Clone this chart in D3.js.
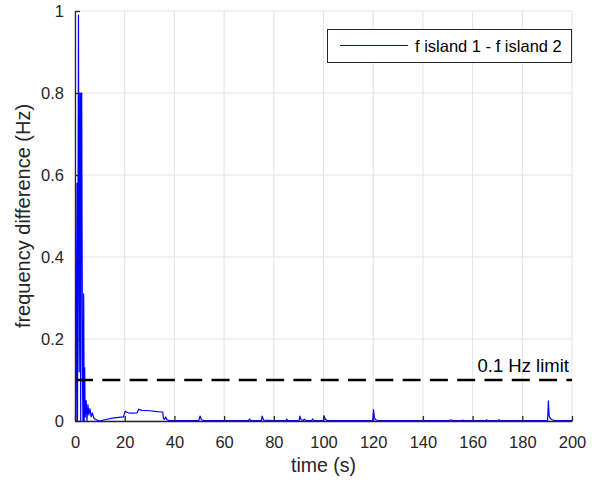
<!DOCTYPE html>
<html>
<head>
<meta charset="utf-8">
<script src="https://cdn.jsdelivr.net/npm/d3@7"></script>
<style>
  html, body { margin: 0; padding: 0; background: #fff; }
  svg { display: block; font-family: "Liberation Sans", Arial, Helvetica, sans-serif; }
</style>
</head>
<body>
<svg id="chart" width="598" height="483"></svg>
<script>
// Time (s) and frequency difference between the two islands (Hz)
const timeS = [
  0, 0.4, 0.8, 1.0, 1.4, 1.7, 2.0, 2.3, 2.5, 2.7, 3.0, 3.2, 3.5, 3.7, 3.9, 4.1,
  4.5, 4.8, 5.2, 5.6, 6.0, 6.5, 7.0, 7.5, 8.0, 9.0, 10.0, 12.0, 15.0, 19.5,
  20.2, 20.6, 21.5, 23.0, 25.0, 25.6, 26.2, 27.0, 30.0, 33.0, 35.3, 35.6, 36.0,
  36.5, 37.0, 38.0, 40.0, 45.0, 49.8, 50.3, 50.9, 52.0, 60.0, 69.8, 70.2, 70.7,
  75.0, 75.3, 75.9, 80.0, 84.9, 85.2, 85.6, 90.2, 90.5, 91.0, 91.9, 92.2, 93.0,
  95.3, 95.6, 96.2, 99.9, 100.2, 100.8, 101.5, 110.0, 119.8, 120.1, 120.5,
  121.0, 122.0, 130.0, 140.0, 150.8, 151.2, 151.8, 155.6, 156.0, 156.5, 165.3,
  165.6, 166.0, 170.3, 170.6, 171.1, 180.0, 190.2, 190.5, 190.8, 191.3, 192.0,
  193.0, 200.0
];
const freqDiff = [
  0, 0.0, 0.58, 0.0, 0.99, 0.12, 0.8, 0.0, 0.8, 0.8, 0.12, 0.0, 0.31, 0.0, 0.13, 0.01,
  0.05, 0.0, 0.04, 0.015, 0.03, 0.01, 0.02, 0.008, 0.005, 0.002, 0.0, 0.003, 0.007, 0.01,
  0.024, 0.022, 0.02, 0.019, 0.02, 0.029, 0.027, 0.026, 0.025, 0.023, 0.022, 0.006, 0.004,
  0.01, 0.003, 0.001, 0.001, 0.001, 0.001, 0.012, 0.003, 0.001, 0.001, 0.001, 0.005, 0.001,
  0.001, 0.012, 0.002, 0.001, 0.001, 0.005, 0.001, 0.001, 0.012, 0.003, 0.001, 0.004, 0.001,
  0.001, 0.005, 0.001, 0.001, 0.013, 0.004, 0.001, 0.001, 0.001, 0.028, 0.008,
  0.003, 0.001, 0.001, 0.001, 0.001, 0.003, 0.001, 0.001, 0.002, 0.001, 0.001,
  0.003, 0.001, 0.001, 0.003, 0.001, 0.001, 0.001, 0.049, 0.013,
  0.006, 0.003, 0.001, 0.001
];
const xTicks = [0, 20, 40, 60, 80, 100, 120, 140, 160, 180, 200];
const yTicks = [0, 0.2, 0.4, 0.6, 0.8, 1];
const limitHz = [0.1];
const seriesName = ["f island 1 - f island 2"];
const limitLabel = ["0.1 Hz limit"];

const svg = d3.select("#chart");
const margin = { left: 75, right: 26, top: 11, bottom: 62 };
const W = 598, H = 483;
const FONT = "\"Liberation Sans\", Arial, Helvetica, sans-serif";

const x = d3.scaleLinear().domain([0, 200]).range([margin.left, W - margin.right]);
const y = d3.scaleLinear().domain([0, 1]).range([H - margin.bottom, margin.top]);

const axisColor = "#262626";
const gridColor = "#e3e3e3";

// grid lines
const grid = svg.append("g");
grid.selectAll("line.vx").data(xTicks).join("line")
  .attr("x1", d => x(d)).attr("x2", d => x(d))
  .attr("y1", y(0)).attr("y2", y(1))
  .attr("stroke", gridColor).attr("stroke-width", 1);
grid.selectAll("line.hy").data(yTicks).join("line")
  .attr("x1", x(0)).attr("x2", x(200))
  .attr("y1", d => y(d)).attr("y2", d => y(d))
  .attr("stroke", gridColor).attr("stroke-width", 1);

// data trace
const clipId = "plotClip";
svg.append("clipPath").attr("id", clipId).append("rect")
  .attr("x", x(0)).attr("y", y(1) - 2)
  .attr("width", x(200) - x(0)).attr("height", y(0) - y(1) + 2);

const line = d3.line().x((d, i) => x(timeS[i])).y((d) => y(d));
svg.append("path")
  .datum(freqDiff)
  .attr("d", line)
  .attr("fill", "none")
  .attr("stroke", "#0000ff")
  .attr("stroke-width", 1.2)
  .attr("stroke-linejoin", "round")
  .attr("clip-path", `url(#${clipId})`);

// 0.1 Hz threshold
svg.selectAll("line.limit").data(limitHz).join("line")
  .attr("x1", x(0)).attr("x2", x(200))
  .attr("y1", d => y(d)).attr("y2", d => y(d))
  .attr("stroke", "#000").attr("stroke-width", 2.5)
  .attr("stroke-dasharray", "18,9.3");

svg.append("text")
  .attr("x", x(200) - 3).attr("y", y(limitHz[0]) - 8)
  .attr("text-anchor", "end")
  .attr("font-size", 18.5).attr("fill", "#000")
  .text(limitLabel[0]);

// axes
const xAxis = d3.axisBottom(x).tickValues(xTicks).tickFormat(d3.format("d"))
  .tickSizeInner(-5).tickSizeOuter(0).tickPadding(15);
const gx = svg.append("g").attr("transform", `translate(0,${y(0)})`).call(xAxis);
const yAxis = d3.axisLeft(y).tickValues(yTicks).tickFormat(d => d === 0 || d === 1 ? d3.format("d")(d) : d3.format(".1f")(d))
  .tickSizeInner(-5).tickSizeOuter(0).tickPadding(11);
const gy = svg.append("g").attr("transform", `translate(${x(0)},0)`).call(yAxis);

[gx, gy].forEach(g => {
  g.attr("font-size", 16.5).attr("font-family", FONT);
  g.select(".domain").attr("stroke", axisColor).attr("stroke-width", 1.3);
  g.selectAll(".tick line").attr("stroke", axisColor).attr("stroke-width", 1.3);
  g.selectAll(".tick text").attr("fill", axisColor);
});

// axis titles
svg.append("text")
  .attr("x", (x(0) + x(200)) / 2).attr("y", 472)
  .attr("text-anchor", "middle").attr("font-size", 19.5).attr("fill", axisColor)
  .text("time (s)");
svg.append("text")
  .attr("transform", `translate(30,${(y(0) + y(1)) / 2}) rotate(-90)`)
  .attr("text-anchor", "middle").attr("font-size", 20).attr("fill", axisColor)
  .text("frequency difference (Hz)");

// legend
const lg = svg.append("g");
lg.append("rect")
  .attr("x", 327.5).attr("y", 29.5).attr("width", 244).attr("height", 33)
  .attr("fill", "#fff").attr("stroke", axisColor).attr("stroke-width", 1);
lg.append("line")
  .attr("x1", 340).attr("x2", 408).attr("y1", 45.5).attr("y2", 45.5)
  .attr("stroke", "#0000ff").attr("stroke-width", 1.2);
lg.append("text")
  .attr("x", 415).attr("y", 51.5).attr("font-size", 16.5).attr("fill", "#000")
  .text(seriesName[0]);
</script>
</body>
</html>
